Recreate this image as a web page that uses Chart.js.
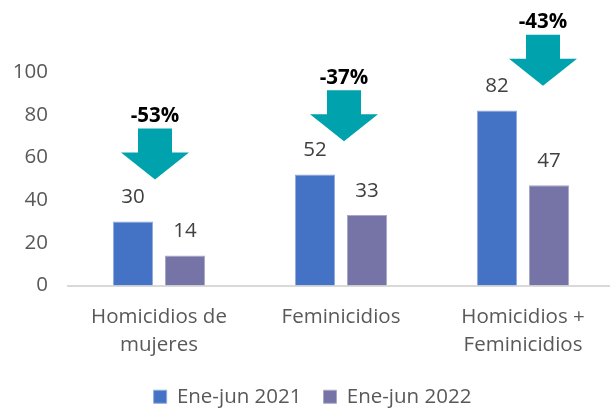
<!DOCTYPE html>
<html>
<head>
<meta charset="utf-8">
<script src="https://cdn.jsdelivr.net/npm/chart.js@4.4.1/dist/chart.umd.min.js"></script>
<style>
  html, body { margin: 0; padding: 0; background: #fff; overflow: hidden; }
  #wrap { width: 614px; height: 408px; }
</style>
</head>
<body>
<div id="wrap"><canvas id="chart" width="614" height="408"></canvas></div>
<script>
const categories = [['Homicidios de', 'mujeres'], 'Feminicidios', ['Homicidios +', 'Feminicidios']]
const seriesNames = ['Ene-jun 2021', 'Ene-jun 2022']
const values2021 = [30, 52, 82]
const values2022 = [14, 33, 47]
const pctChange = ['-53%', '-37%', '-43%']
const yTicks = [0, 20, 40, 60, 80, 100]

// where each arrow sits: top in axis units, x shift from the category centre in px
const arrowTop = [73.5, 91.5, 117.5]
const arrowShift = [-4, 3, 20]

const labelFont = '"Open Sans", "Noto Sans", sans-serif'

// value labels above bars + the teal arrows with % change
const annotations = {
  id: 'annotations',
  afterDatasetsDraw(chart) {
    const ctx = chart.ctx
    ctx.save()
    ctx.font = '20.5px ' + labelFont
    ctx.fillStyle = '#404040'
    ctx.textAlign = 'center'
    ctx.textBaseline = 'middle'
    chart.data.datasets.forEach((ds, i) => {
      chart.getDatasetMeta(i).data.forEach((bar, j) => {
        ctx.fillText(String(ds.data[j]), bar.x, bar.y - 24)
      })
    })

    const xScale = chart.scales.x
    const yScale = chart.scales.y
    categories.forEach((c, i) => {
      const cx = xScale.getPixelForValue(i) + arrowShift[i]
      const top = yScale.getPixelForValue(arrowTop[i])
      ctx.fillStyle = '#00A3AD'
      ctx.beginPath()
      ctx.moveTo(cx - 17, top)
      ctx.lineTo(cx + 17, top)
      ctx.lineTo(cx + 17, top + 24)
      ctx.lineTo(cx + 34, top + 24)
      ctx.lineTo(cx, top + 51)
      ctx.lineTo(cx - 34, top + 24)
      ctx.lineTo(cx - 17, top + 24)
      ctx.closePath()
      ctx.fill()
      ctx.fillStyle = '#000'
      ctx.font = 'bold 20.5px ' + labelFont
      ctx.fillText(pctChange[i], cx, top - 12)
    })
    ctx.restore()
  }
}

new Chart(document.getElementById('chart'), {
  type: 'bar',
  data: {
    labels: categories,
    datasets: [
      {
        label: seriesNames[0],
        data: values2021,
        backgroundColor: '#4472C4',
        borderColor: '#8FAADC',
        borderWidth: 1
      },
      {
        label: seriesNames[1],
        data: values2022,
        backgroundColor: '#7673A6',
        borderColor: '#A9A7C8',
        borderWidth: 1
      }
    ]
  },
  options: {
    responsive: false,
    animation: false,
    categoryPercentage: 0.573,
    barPercentage: 0.77,
    layout: { padding: { top: 72, left: 11, right: 0, bottom: -9 } },
    plugins: {
      title: { display: false },
      tooltip: { enabled: false },
      legend: {
        position: 'bottom',
        labels: {
          boxWidth: 13,
          boxHeight: 13,
          padding: 22,
          color: '#595959',
          font: { family: labelFont, size: 20.5 }
        }
      }
    },
    scales: {
      x: {
        grid: { display: false, drawTicks: false },
        border: { display: true, color: '#D9D9D9', width: 2 },
        afterFit(axis) {
          axis.height = 79
        },
        ticks: {
          color: '#595959',
          padding: 18,
          maxRotation: 0,
          font: { family: labelFont, size: 20.5, lineHeight: 1.37 }
        }
      },
      y: {
        min: 0,
        max: 100,
        afterBuildTicks(axis) {
          axis.ticks = yTicks.map((v) => ({ value: v }))
        },
        afterFit(axis) {
          axis.width = 57
        },
        grid: { display: false, drawTicks: false },
        border: { display: false },
        ticks: {
          color: '#595959',
          padding: 20,
          font: { family: labelFont, size: 20.5 }
        }
      }
    }
  },
  plugins: [annotations]
})
</script>
</body>
</html>
